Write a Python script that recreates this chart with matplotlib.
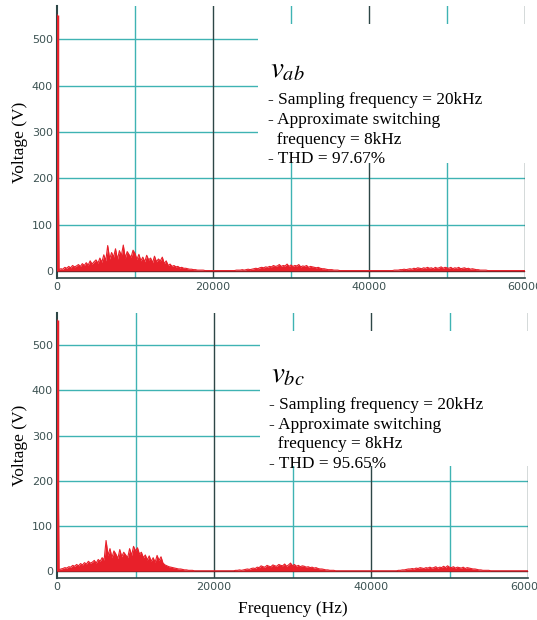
import numpy as np
import matplotlib
matplotlib.use('Agg')
import matplotlib.pyplot as plt
from matplotlib.patches import Rectangle

plt.rcParams['mathtext.fontset'] = 'stix'

# frequency grid of the FFT (Hz), 250 Hz resolution
freq = np.arange(0, 60001, 250)

# harmonic amplitudes (V) of v_ab
vab = [553, 3, 5, 4, 8, 6, 10, 7, 12, 9, 11, 14, 10, 16, 12, 18, 13, 22, 15, 20,
       24, 17, 28, 19, 35, 22, 55, 26, 40, 30, 48, 25, 44, 33, 56, 28, 42, 35, 30, 45,
       38, 25, 36, 22, 30, 20, 34, 24, 28, 18, 32, 20, 26, 22, 30, 16, 22, 12, 15, 10,
       12, 9, 10, 7, 8, 6, 6, 5, 4, 4, 3, 3, 2, 2, 2, 2, 1, 1, 1, 1,
       1, 1, 1, 1, 1, 1, 1, 1, 1, 1, 1, 1, 2, 2, 2, 3, 2, 3, 4, 3,
       4, 5, 6, 5, 7, 8, 7, 9, 8, 10, 9, 12, 10, 11, 14, 10, 12, 11, 15, 10,
       13, 10, 12, 11, 14, 9, 11, 10, 12, 8, 10, 9, 8, 7, 8, 6, 5, 5, 4, 3,
       3, 3, 2, 2, 2, 1, 1, 1, 1, 1, 1, 1, 1, 1, 1, 1, 1, 1, 1, 1,
       1, 1, 1, 1, 1, 1, 1, 1, 1, 1, 1, 1, 1, 2, 2, 2, 3, 3, 4, 3,
       4, 5, 4, 6, 5, 7, 6, 5, 7, 6, 8, 6, 7, 5, 8, 6, 7, 9, 6, 8,
       7, 6, 8, 5, 7, 6, 8, 5, 6, 7, 5, 6, 4, 5, 4, 3, 3, 2, 2, 2,
       2, 1, 1, 1, 1, 1, 1, 1, 1, 1, 1, 1, 1, 1, 1, 1, 1, 1, 1, 1, 1]

# harmonic amplitudes (V) of v_bc
vbc = [556, 3, 5, 6, 8, 7, 10, 9, 13, 11, 15, 12, 17, 14, 19, 16, 22, 18, 20, 24,
       18, 26, 22, 30, 25, 68, 35, 50, 30, 45, 38, 28, 48, 32, 42, 36, 30, 50, 35, 55,
       45, 52, 38, 42, 30, 36, 25, 34, 22, 30, 20, 35, 24, 32, 18, 14, 12, 10, 9, 8,
       7, 6, 5, 5, 4, 3, 3, 2, 2, 2, 1, 1, 1, 1, 1, 1, 1, 1, 1, 1,
       1, 1, 1, 1, 1, 1, 1, 1, 1, 1, 1, 2, 2, 3, 2, 3, 4, 5, 4, 6,
       7, 6, 9, 8, 12, 10, 9, 13, 11, 10, 14, 12, 11, 15, 13, 12, 16, 11, 14, 18,
       12, 15, 11, 13, 10, 12, 11, 9, 10, 8, 9, 7, 8, 6, 5, 5, 4, 3, 3, 2,
       2, 2, 1, 1, 1, 1, 1, 1, 1, 1, 1, 1, 1, 1, 1, 1, 1, 1, 1, 1,
       1, 1, 1, 1, 1, 1, 1, 1, 1, 1, 1, 1, 1, 1, 2, 2, 3, 3, 4, 5,
       5, 6, 5, 7, 6, 8, 7, 6, 8, 7, 9, 7, 8, 10, 7, 9, 8, 11, 8, 12,
       9, 8, 10, 7, 9, 8, 7, 9, 6, 8, 7, 6, 5, 5, 4, 3, 3, 2, 2, 2,
       2, 1, 1, 1, 1, 1, 1, 1, 1, 1, 1, 1, 1, 1, 1, 1, 1, 1, 1, 1, 1]

labels = [r'$v_{ab}$', r'$v_{bc}$']
thd = ['97.67%', '95.65%']
yticks = [0, 100, 200, 300, 400, 500]
xticks = [0, 20000, 40000, 60000]

teal = '#3fb3b3'
dark = '#2d4646'
red = '#e8202a'
tickcol = '#3c5252'

fig = plt.figure(figsize=(5.37, 6.20), dpi=100)
axes = [fig.add_axes([57/537, 0.5516, (525-57)/537, 0.990-0.5516]),
        fig.add_axes([57/537, 0.0677, (528-57)/537, 0.495-0.0677])]

for ax, vals, lab, t in zip(axes, [vab, vbc], labels, thd):
    ax.set_xlim(0, 60000)
    ax.set_ylim(-15, 571)

    # grid
    for y in [100, 200]:
        ax.axhline(y, color=teal, lw=1, zorder=1)
    for y in [300, 400, 500]:
        ax.hlines(y, 0, 25800, color=teal, lw=1, zorder=1)
    for x in [10000, 30000, 50000]:
        ax.axvline(x, color=teal, lw=1, zorder=1)
    for x in [20000, 40000, 60000]:
        ax.axvline(x, color=dark, lw=1, zorder=1)

    # white panel behind the annotation
    ax.add_patch(Rectangle((25800, 232), 36000, 300, facecolor='white',
                           edgecolor='none', zorder=2, clip_on=False))

    ax.axhline(0, color='#222222', lw=1, zorder=3)
    ax.fill_between(freq, 0, vals, color=red, lw=0, zorder=4)
    ax.plot(freq, vals, color=red, lw=0.8, zorder=4)
    # fundamental component
    ax.vlines(freq[0], 0, vals[0], color=red, lw=2.5, zorder=5)

    for s in ['top', 'right']:
        ax.spines[s].set_visible(False)
    ax.spines['left'].set_color(dark)
    ax.spines['left'].set_linewidth(1.5)
    ax.spines['bottom'].set_color(dark)
    ax.spines['bottom'].set_linewidth(1.2)

    ax.set_yticks(yticks)
    ax.set_xticks(xticks)
    ax.tick_params(length=0, labelsize=8, colors=tickcol, pad=3)
    ax.set_ylabel('Voltage (V)', family='Liberation Serif', fontsize=12.5, labelpad=3)

    ax.text(27300, 418, lab, fontsize=21, va='baseline', zorder=5)
    ax.text(27000, 385,
            '- Sampling frequency = 20kHz\n- Approximate switching\n  frequency = 8kHz\n- THD = ' + t,
            family='Liberation Serif', fontsize=12.4,
            linespacing=1.3, va='top', zorder=5)

axes[1].set_xlabel('Frequency (Hz)', family='Liberation Serif', fontsize=12.5, labelpad=6)

plt.savefig('out.png', dpi=100)
